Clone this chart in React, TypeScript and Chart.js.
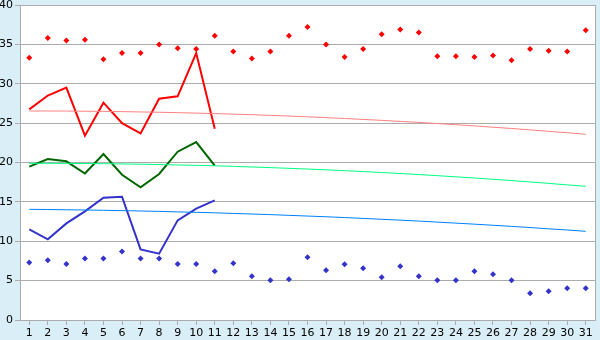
import React, { useEffect, useRef } from "react";
import { Chart, registerables } from "chart.js";

Chart.register(...registerables);

const days = Array.from({ length: 31 }, (_, i) => String(i + 1));

const redPoints = [33.3, 35.8, 35.5, 35.6, 33.1, 33.9, 33.9, 35.0, 34.5, 34.4, 36.1, 34.1, 33.2, 34.1, 36.1, 37.2, 35.0, 33.4, 34.4, 36.3, 36.9, 36.5, 33.5, 33.5, 33.4, 33.6, 33.0, 34.4, 34.2, 34.1, 36.8];
const bluePoints = [7.3, 7.6, 7.1, 7.8, 7.8, 8.7, 7.8, 7.8, 7.1, 7.1, 6.2, 7.2, 5.55, 5.04, 5.17, 7.96, 6.31, 7.07, 6.56, 5.42, 6.81, 5.55, 5.04, 5.04, 6.18, 5.8, 5.04, 3.39, 3.64, 4.02, 4.02];

const redLine = [26.75, 28.5, 29.5, 23.4, 27.6, 25.0, 23.7, 28.1, 28.4, 33.9, 24.3];
const greenLine = [19.47, 20.44, 20.15, 18.6, 21.08, 18.45, 16.85, 18.54, 21.37, 22.6, 19.6];
const blueLine = [11.51, 10.24, 12.27, 13.8, 15.53, 15.66, 8.97, 8.42, 12.65, 14.14, 15.2];

const redTrend = [26.54, 26.54, 26.53, 26.51, 26.49, 26.46, 26.42, 26.38, 26.33, 26.27, 26.21, 26.14, 26.07, 25.98, 25.9, 25.8, 25.7, 25.59, 25.47, 25.35, 25.22, 25.09, 24.95, 24.8, 24.65, 24.48, 24.32, 24.14, 23.96, 23.78, 23.58];
const greenTrend = [19.9, 19.9, 19.89, 19.87, 19.85, 19.82, 19.78, 19.74, 19.69, 19.64, 19.58, 19.51, 19.43, 19.35, 19.26, 19.17, 19.07, 18.96, 18.85, 18.73, 18.6, 18.47, 18.33, 18.18, 18.03, 17.87, 17.7, 17.53, 17.35, 17.16, 16.98];
const blueTrend = [14.05, 14.03, 14.0, 13.97, 13.93, 13.89, 13.84, 13.79, 13.73, 13.67, 13.61, 13.53, 13.46, 13.38, 13.29, 13.2, 13.11, 13.01, 12.9, 12.79, 12.68, 12.56, 12.43, 12.3, 12.17, 12.03, 11.89, 11.74, 11.58, 11.43, 11.26];

const yTicks = [0, 5, 10, 15, 20, 25, 30, 35, 40];

const GRID = "#acacac";

const borderPlugin = {
  id: "plotBorder",
  afterDraw(chart: any) {
    const { ctx, chartArea } = chart;
    ctx.save();
    ctx.strokeStyle = GRID;
    ctx.lineWidth = 1;
    ctx.beginPath();
    ctx.moveTo(Math.round(chartArea.right) + 0.5, chartArea.top);
    ctx.lineTo(Math.round(chartArea.right) + 0.5, chartArea.bottom);
    ctx.stroke();
    ctx.restore();
  },
};

const bgPlugin = {
  id: "plotBg",
  beforeDraw(chart: any) {
    const { ctx, chartArea } = chart;
    ctx.save();
    ctx.fillStyle = "#ffffff";
    ctx.fillRect(chartArea.left, chartArea.top, chartArea.right - chartArea.left, chartArea.bottom - chartArea.top);
    ctx.restore();
  },
};

export default function App() {
  const ref = useRef<HTMLCanvasElement | null>(null);

  useEffect(() => {
    if (!ref.current) return;
    const pad = (arr: number[]) => days.map((_, i) => (i < arr.length ? arr[i] : null));
    const thin = (data: number[], color: string) => ({
      type: "line" as const,
      data,
      borderColor: color,
      borderWidth: 1,
      pointRadius: 0,
      fill: false,
      tension: 0,
    });
    const thick = (data: number[], color: string) => ({
      type: "line" as const,
      data: pad(data),
      borderColor: color,
      borderWidth: 2,
      pointRadius: 0,
      fill: false,
      tension: 0,
      spanGaps: false,
    });
    const pts = (data: number[], color: string) => ({
      type: "line" as const,
      data,
      showLine: false,
      borderColor: color,
      backgroundColor: color,
      pointStyle: "rectRot",
      pointRadius: 3,
      pointBorderWidth: 0,
    });

    const chart = new Chart(ref.current, {
      type: "line",
      data: {
        labels: days,
        datasets: [
          thin(redTrend, "#ff8080"),
          thin(greenTrend, "#00ff80"),
          thin(blueTrend, "#0080ff"),
          thick(redLine, "#ff0000"),
          thick(greenLine, "#006600"),
          thick(blueLine, "#3333cc"),
          pts(redPoints, "#ff0000"),
          pts(bluePoints, "#3333cc"),
        ] as any,
      },
      options: {
        animation: false,
        responsive: false,
        maintainAspectRatio: false,
        layout: { padding: { top: 5, right: 5, left: 0, bottom: 0 } },
        plugins: { legend: { display: false }, tooltip: { enabled: false } },
        scales: {
          x: {
            type: "category",
            offset: true,
            grid: { drawOnChartArea: false, drawTicks: true, tickLength: 5, color: GRID, offset: false },
            border: { color: GRID },
            ticks: {
              color: "#000",
              font: { family: "DejaVu Sans", size: 11 },
              padding: 2,
              maxRotation: 0,
              autoSkip: false,
            },
            afterFit: (s: any) => {
              s.height = 20;
              s.paddingLeft = 0;
              s.paddingRight = 0;
            },
          },
          y: {
            min: 0,
            max: 40,
            afterBuildTicks: (s: any) => {
              s.ticks = yTicks.map((v) => ({ value: v }));
            },
            grid: { color: GRID, tickLength: 5, drawTicks: true },
            border: { color: GRID },
            ticks: {
              color: "#000",
              font: { family: "DejaVu Sans", size: 11 },
              padding: 2,
            },
            afterFit: (s: any) => {
              s.width = 20;
              s.paddingTop = 0;
              s.paddingBottom = 0;
            },
          },
        },
      },
      plugins: [bgPlugin, borderPlugin],
    });
    return () => chart.destroy();
  }, []);

  return (
    <div style={{ position: "absolute", left: 0, top: 0, width: 600, height: 340, background: "#d9eef6" }}>
      <canvas ref={ref} width={600} height={340} style={{ display: "block", width: 600, height: 340 }} />
    </div>
  );
}
